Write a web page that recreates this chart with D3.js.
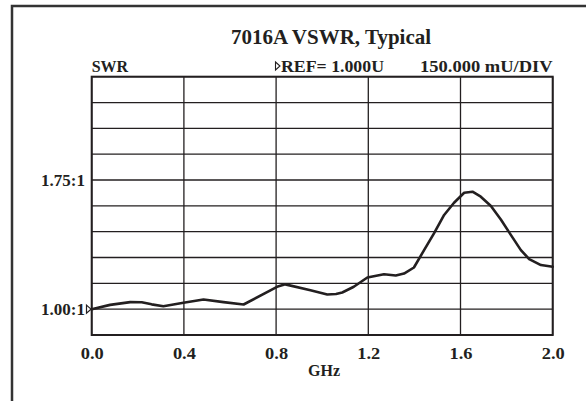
<!DOCTYPE html>
<html>
<head>
<meta charset="utf-8">
<script src="https://cdn.jsdelivr.net/npm/d3@7"></script>
<style>
  html, body { margin: 0; padding: 0; background: #fff; }
  svg { display: block; }
  text { font-family: "Liberation Serif", "DejaVu Serif", serif; font-weight: bold; fill: #231f20; }
</style>
</head>
<body>
<svg id="chart" width="586" height="401"></svg>
<script>
// ---- data ----
const title = "7016A VSWR, Typical";
const yUnitLabel = "SWR";
const refLabel = "REF= 1.000U";
const scaleLabel = "150.000 mU/DIV";
const xTitle = "GHz";
const xTicks = [0.0, 0.4, 0.8, 1.2, 1.6, 2.0];
const xTickLabels = ["0.0", "0.4", "0.8", "1.2", "1.6", "2.0"];
const yTickValues = [1.00, 1.75];
const yTickLabels = ["1.00:1", "1.75:1"];
const yDomain = [0.85, 2.35];
const yGridStep = 0.15;
const freqGHz = [0.00, 0.08, 0.167, 0.217, 0.26, 0.311, 0.398, 0.485, 0.572, 0.659,
  0.804, 0.84, 0.949, 1.022, 1.06, 1.087, 1.137, 1.196, 1.268, 1.319, 1.355, 1.398,
  1.442, 1.485, 1.529, 1.572, 1.616, 1.652, 1.688, 1.732, 1.775, 1.819, 1.862, 1.898,
  1.949, 2.000];
const swr = [1.000, 1.025, 1.041, 1.040, 1.028, 1.017, 1.037, 1.056, 1.041, 1.027,
  1.130, 1.144, 1.110, 1.085, 1.088, 1.097, 1.130, 1.184, 1.203, 1.196, 1.207, 1.242,
  1.343, 1.440, 1.547, 1.618, 1.676, 1.682, 1.653, 1.599, 1.521, 1.430, 1.343, 1.291,
  1.256, 1.246];

// ---- layout ----
const svg = d3.select("#chart");
const L = 91.7, R = 552.7, T = 76.7, B = 335;
const x = d3.scaleLinear().domain([0, 2]).range([L, R]);
const y = d3.scaleLinear().domain(yDomain).range([B, T]);
const ink = "#231f20";

// outer frame (only top and left visible)
svg.append("path")
  .attr("d", `M12,420 L12,6 L600,6`)
  .attr("fill", "none").attr("stroke", "#333").attr("stroke-width", 2.5);

// grid
const g = svg.append("g");
const yGrid = d3.range(yDomain[0], yDomain[1] + 1e-9, yGridStep);
g.selectAll("line.h").data(yGrid).join("line")
  .attr("x1", L).attr("x2", R)
  .attr("y1", d => y(d)).attr("y2", d => y(d))
  .attr("stroke", ink).attr("stroke-width", 1.3);
g.selectAll("line.v").data(xTicks).join("line")
  .attr("x1", d => x(d)).attr("x2", d => x(d))
  .attr("y1", T).attr("y2", B)
  .attr("stroke", ink).attr("stroke-width", 1.3);
g.append("rect").attr("x", L).attr("y", T).attr("width", R - L).attr("height", B - T)
  .attr("fill", "none").attr("stroke", ink).attr("stroke-width", 2);

// x axis labels via d3 axis
const xAxis = d3.axisBottom(x).tickValues(xTicks)
  .tickFormat((d, i) => xTickLabels[i]).tickSize(0).tickPadding(0);
const xa = svg.append("g").attr("transform", `translate(0,${B})`).call(xAxis);
xa.select(".domain").remove();
xa.selectAll("text").attr("font-size", 17).attr("dy", null).attr("y", 24)
  .attr("textLength", 23).attr("lengthAdjust", "spacingAndGlyphs")
  .style("font-family", "Liberation Serif").style("font-weight", "bold").attr("fill", ink);

// y labels via d3 axis
const yAxis = d3.axisLeft(y).tickValues(yTickValues)
  .tickFormat((d, i) => yTickLabels[i]).tickSize(0).tickPadding(0);
const ya = svg.append("g").attr("transform", `translate(85,0)`).call(yAxis);
ya.select(".domain").remove();
ya.selectAll("text").attr("font-size", 17).attr("x", 0).attr("dy", "0.33em")
  .style("font-family", "Liberation Serif").style("font-weight", "bold").attr("fill", ink);

// reference marker triangle at 1.00
const ry = y(1.0);
svg.append("path")
  .attr("d", `M86.5,${ry - 4} L91,${ry} L86.5,${ry + 4} Z`)
  .attr("fill", "#fff").attr("stroke", ink).attr("stroke-width", 1.2);

// curve
const line = d3.line().x(d => x(d[0])).y(d => y(d[1])).curve(d3.curveLinear);
svg.append("path").datum(freqGHz.map((f, i) => [f, swr[i]]))
  .attr("d", line).attr("fill", "none").attr("stroke", ink)
  .attr("stroke-width", 2.6).attr("stroke-linejoin", "round").attr("stroke-linecap", "round");

// texts
svg.append("text").attr("x", 331).attr("y", 44).attr("text-anchor", "middle")
  .attr("font-size", 21).text(title);
svg.append("text").attr("x", L).attr("y", 71.7).attr("font-size", 16).text(yUnitLabel);
// small ref triangle
svg.append("path").attr("d", "M275.5,62 L280,66 L275.5,70 Z")
  .attr("fill", "#fff").attr("stroke", ink).attr("stroke-width", 1.1);
svg.append("text").attr("x", 281).attr("y", 71.7).attr("font-size", 16.5)
  .attr("textLength", 103).attr("lengthAdjust", "spacingAndGlyphs").text(refLabel);
svg.append("text").attr("x", 420).attr("y", 71.7)
  .attr("font-size", 16.5).attr("textLength", 132.7).attr("lengthAdjust", "spacingAndGlyphs")
  .text(scaleLabel);
svg.append("text").attr("x", 324).attr("y", 376).attr("text-anchor", "middle")
  .attr("font-size", 16).text(xTitle);
</script>
</body>
</html>
